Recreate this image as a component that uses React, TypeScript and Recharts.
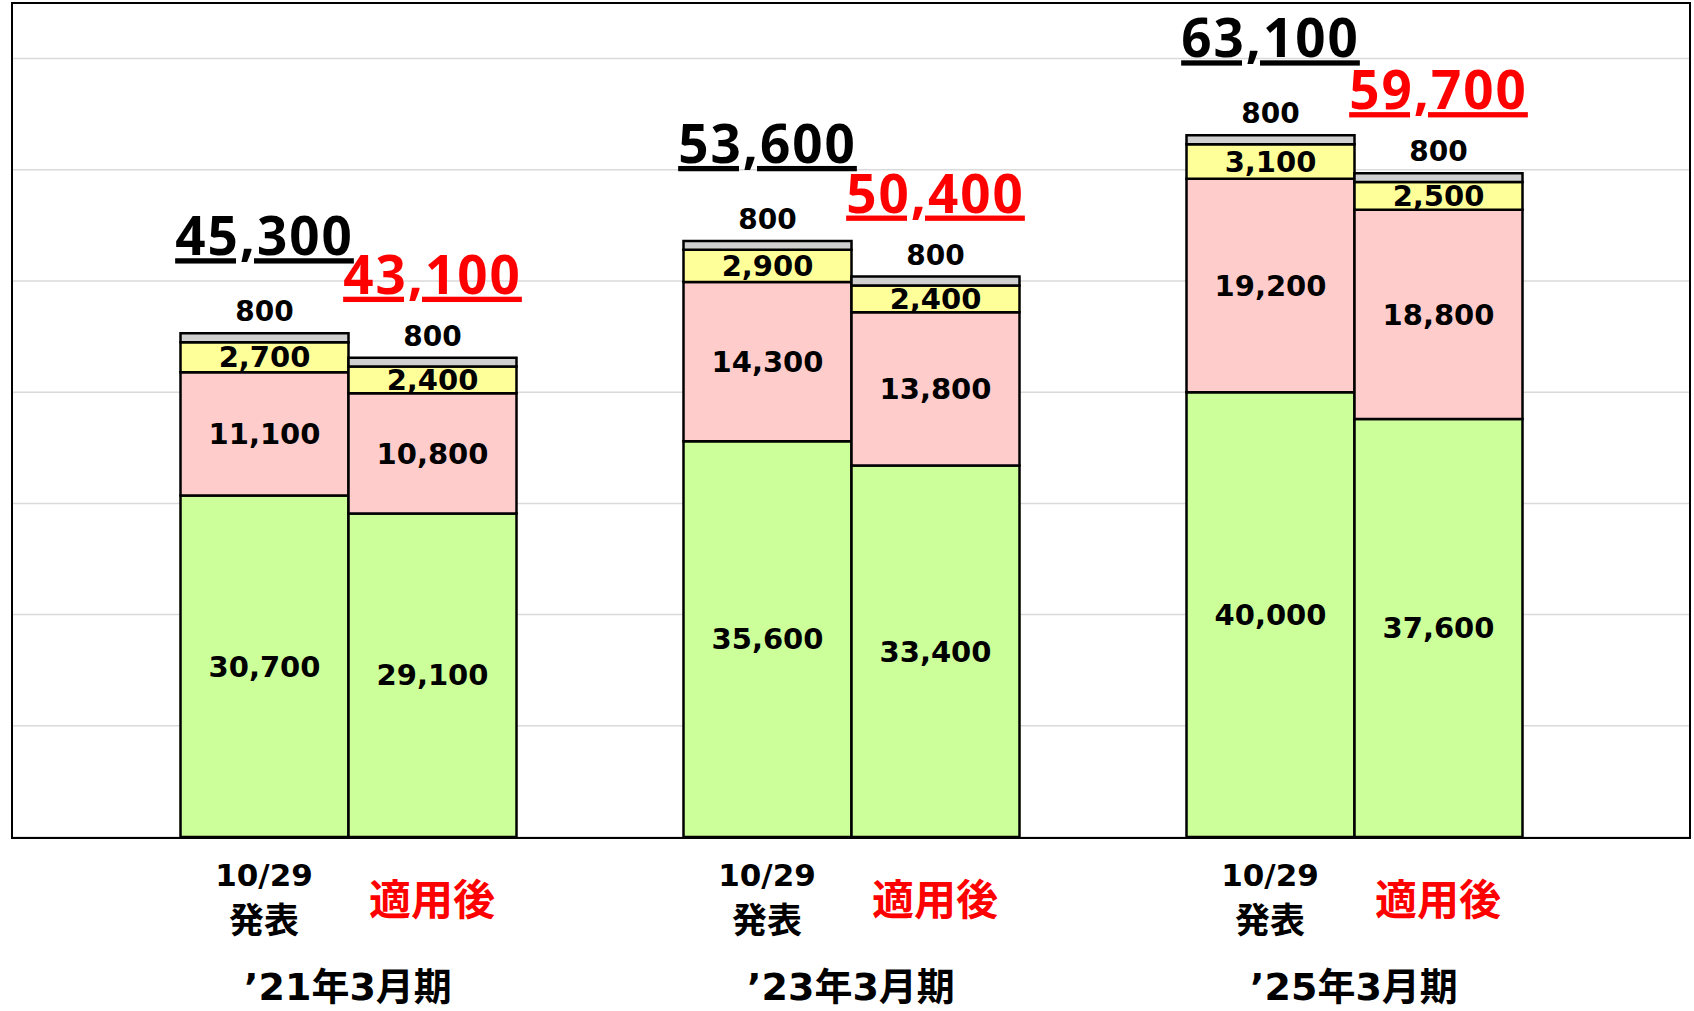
import { BarChart, Bar, XAxis, YAxis, CartesianGrid, LabelList } from 'recharts'

const periods = ['’21年3月期', '’23年3月期', '’25年3月期']

// 10/29発表
const announcedBase = [30700, 35600, 40000]
const announcedSecond = [11100, 14300, 19200]
const announcedThird = [2700, 2900, 3100]
const announcedTop = [800, 800, 800]

// 適用後
const appliedBase = [29100, 33400, 37600]
const appliedSecond = [10800, 13800, 18800]
const appliedThird = [2400, 2400, 2500]
const appliedTop = [800, 800, 800]

const yTicks = [0, 10000, 20000, 30000, 40000, 50000, 60000, 70000]

const W = 1694
const H = 1011
const BAR = 168
const NUM_FONT = '"DejaVu Sans", "Noto Sans CJK JP", sans-serif'
const BIG_FONT = '"Noto Sans", "Noto Sans CJK JP", sans-serif'
const JP_FONT = '"DejaVu Sans", "Noto Sans CJK JP", sans-serif'

const C_GREEN = '#CCFF99'
const C_PINK = '#FFCCCC'
const C_YELLOW = '#FFFF99'
const C_GRAY = '#D0D0D0'
const RED = '#FF0000'

const data = periods.map((period, i) => ({
  period,
  a1: announcedBase[i],
  a2: announcedSecond[i],
  a3: announcedThird[i],
  a4: announcedTop[i],
  b1: appliedBase[i],
  b2: appliedSecond[i],
  b3: appliedThird[i],
  b4: appliedTop[i],
}))

const announcedTotals = data.map(d => d.a1 + d.a2 + d.a3 + d.a4)
const appliedTotals = data.map(d => d.b1 + d.b2 + d.b3 + d.b4)

const fmt = (v: any) => Number(v).toLocaleString('en-US')

const makeTopLabel = (totals: number[], color: string, lift: number) => (props: any) => {
  const vb = props.viewBox || {}
  const x = Number(vb.x ?? props.x)
  const y = Number(vb.y ?? props.y)
  const w = Number(vb.width ?? props.width)
  const i = props.index
  const cx = x + w / 2
  return (
    <g>
      <text x={cx} y={y - 12} textAnchor="middle" fontFamily={NUM_FONT} fontWeight={700} fontSize={28} fill="#000">
        {fmt(props.value)}
      </text>
      <text
        x={cx}
        y={y - lift}
        textAnchor="middle"
        fontFamily={BIG_FONT}
        fontWeight={700}
        fontSize={53}
        letterSpacing={2}
        fill={color}
        style={{ textDecoration: 'underline' }}
      >
        {fmt(totals[i])}
      </text>
    </g>
  )
}

const PeriodTick = ({ x, y, payload }: any) => {
  const half = BAR / 2
  return (
    <g fontWeight={700}>
      <text x={x - half} y={y + 38} textAnchor="middle" dominantBaseline="central" fontFamily={NUM_FONT} fontSize={31} fill="#000">10/29</text>
      <text x={x - half} y={y + 84} textAnchor="middle" dominantBaseline="central" fontFamily={JP_FONT} fontSize={35} fill="#000">発表</text>
      <text x={x + half} y={y + 63} textAnchor="middle" dominantBaseline="central" fontFamily={JP_FONT} fontSize={42} fill={RED}>適用後</text>
      <text x={x} y={y + 150} textAnchor="middle" dominantBaseline="central" fontFamily={JP_FONT} fontSize={38} fill="#000">{payload.value}</text>
    </g>
  )
}

const inner = { position: 'center' as const, formatter: fmt, fill: '#000', fontSize: 29, fontWeight: 700, fontFamily: NUM_FONT }

export default function App() {
  return (
    <div style={{ position: 'absolute', left: 0, top: 0, width: W, height: H, background: '#fff' }}>
      <BarChart width={W} height={H} data={data} margin={{ top: 3, right: 4, bottom: 0, left: 12 }} barGap={0}>
        <CartesianGrid vertical={false} stroke="#DADADA" strokeWidth={1.5} />
        <XAxis
          dataKey="period"
          height={174}
          axisLine={false}
          tickLine={false}
          tickSize={0}
          tickMargin={0}
          interval={0}
          padding={{ left: 84.5, right: 84.5 }}
          tick={<PeriodTick />}
        />
        <YAxis hide domain={[0, 75000]} ticks={yTicks} />

        <Bar dataKey="a1" stackId="a" barSize={BAR} fill={C_GREEN} stroke="#000" strokeWidth={2.5} isAnimationActive={false}>
          <LabelList dataKey="a1" {...inner} />
        </Bar>
        <Bar dataKey="a2" stackId="a" barSize={BAR} fill={C_PINK} stroke="#000" strokeWidth={2.5} isAnimationActive={false}>
          <LabelList dataKey="a2" {...inner} />
        </Bar>
        <Bar dataKey="a3" stackId="a" barSize={BAR} fill={C_YELLOW} stroke="#000" strokeWidth={2.5} isAnimationActive={false}>
          <LabelList dataKey="a3" {...inner} />
        </Bar>
        <Bar dataKey="a4" stackId="a" barSize={BAR} fill={C_GRAY} stroke="#000" strokeWidth={2.5} isAnimationActive={false}>
          <LabelList dataKey="a4" content={makeTopLabel(announcedTotals, '#000', 78)} />
        </Bar>

        <Bar dataKey="b1" stackId="b" barSize={BAR} fill={C_GREEN} stroke="#000" strokeWidth={2.5} isAnimationActive={false}>
          <LabelList dataKey="b1" {...inner} />
        </Bar>
        <Bar dataKey="b2" stackId="b" barSize={BAR} fill={C_PINK} stroke="#000" strokeWidth={2.5} isAnimationActive={false}>
          <LabelList dataKey="b2" {...inner} />
        </Bar>
        <Bar dataKey="b3" stackId="b" barSize={BAR} fill={C_YELLOW} stroke="#000" strokeWidth={2.5} isAnimationActive={false}>
          <LabelList dataKey="b3" {...inner} />
        </Bar>
        <Bar dataKey="b4" stackId="b" barSize={BAR} fill={C_GRAY} stroke="#000" strokeWidth={2.5} isAnimationActive={false}>
          <LabelList dataKey="b4" content={makeTopLabel(appliedTotals, RED, 64)} />
        </Bar>
      </BarChart>
      {/* plot frame */}
      <div
        style={{
          position: 'absolute',
          left: 11,
          top: 2,
          width: 1680,
          height: 837,
          border: '2.5px solid #000',
          boxSizing: 'border-box',
          pointerEvents: 'none',
        }}
      />
    </div>
  )
}
